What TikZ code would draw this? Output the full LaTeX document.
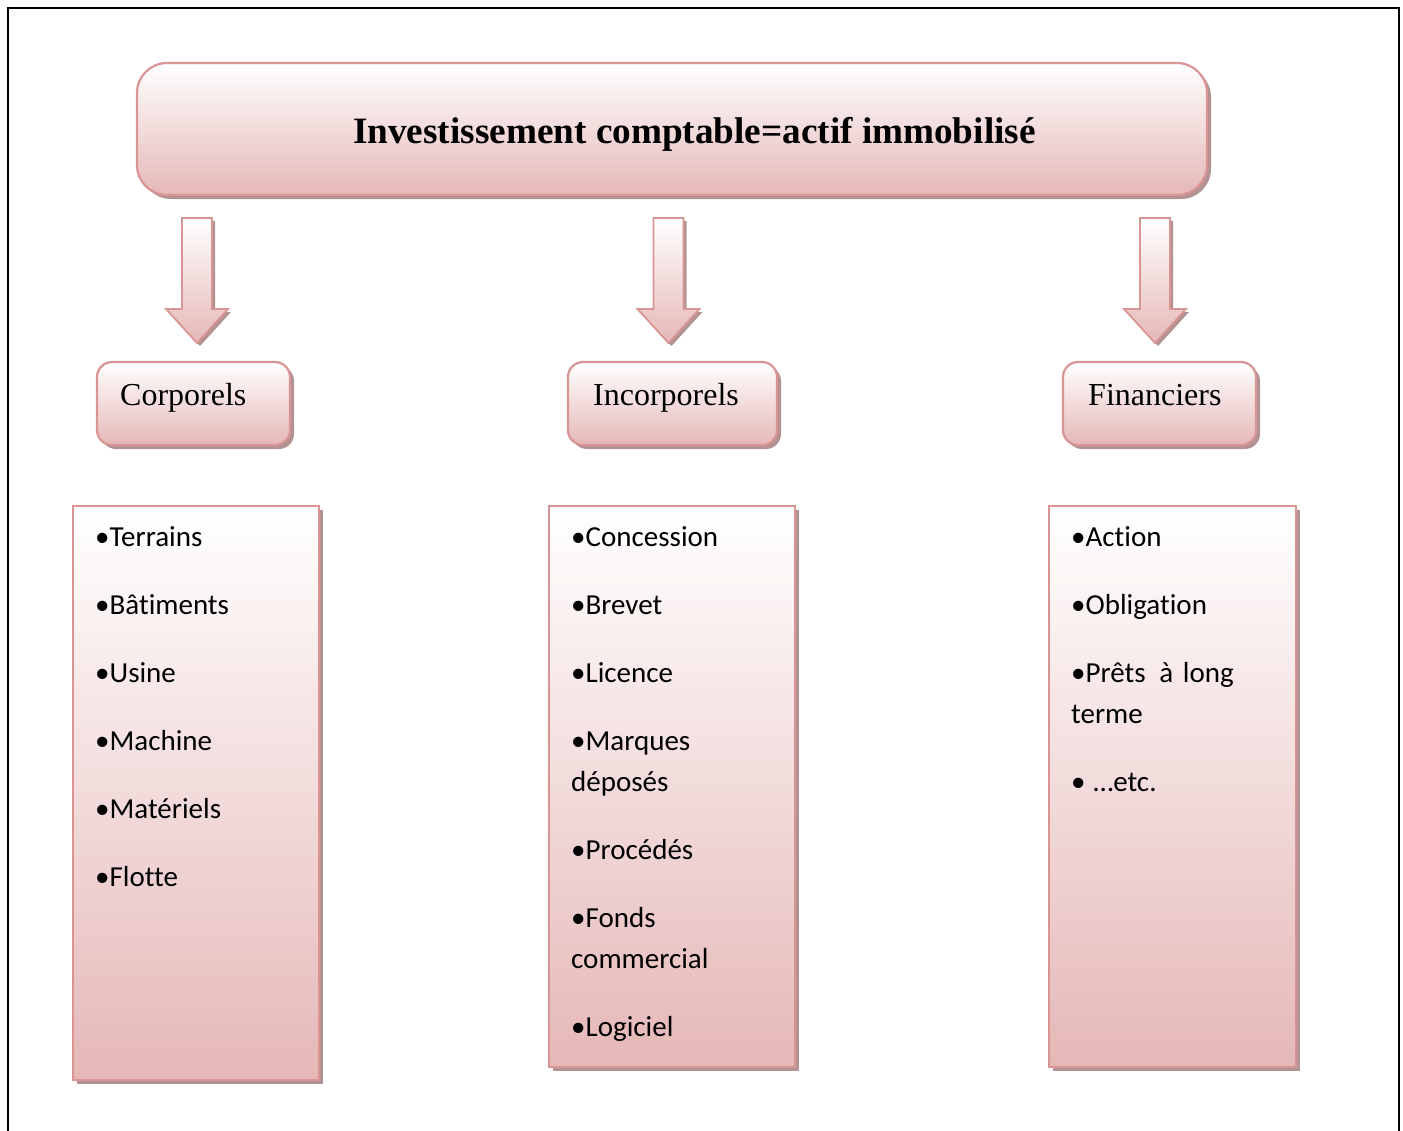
\documentclass[tikz,border=0pt]{standalone}
\usepackage{fontspec}
\setmainfont{Liberation Serif}
\newfontfamily\calibrifont[RawFeature={-liga;-clig;-dlig;-calt}]{Carlito}
\usetikzlibrary{shadows}
\definecolor{pinkbot}{HTML}{E5B8B7}
\definecolor{pinkline}{HTML}{D99594}
\definecolor{shadowcol}{HTML}{B29292}
\tikzset{
  pinkbox/.style={draw=pinkline, line width=2.2pt, top color=white, bottom color=pinkbot,
    inner sep=0pt, drop shadow={shadow xshift=4pt, shadow yshift=-4pt, fill=shadowcol, opacity=1}},
  titlebox/.style={pinkbox, rounded corners=30pt},
  catbox/.style={pinkbox, rounded corners=15pt, minimum height=83pt},
  listbox/.style={pinkbox, minimum width=246pt},
  titletext/.style={anchor=base west, inner sep=0pt, font=\fontsize{37.2}{40}\selectfont\bfseries},
  cattext/.style={anchor=base west, inner sep=0pt, font=\fontsize{32}{36}\selectfont},
  listtext/.style={anchor=base west, inner sep=0pt, align=left, text width=220pt,
    font=\calibrifont\fontsize{29}{41}\selectfont},
  blockarrow/.style={draw=pinkline, line width=1.8pt, top color=white, bottom color=pinkbot},
  frameline/.style={line width=2.5pt, black}
}
\begin{document}
\begin{tikzpicture}[x=1pt,y=-1pt]
\useasboundingbox (0,0) rectangle (1403,1130);
% frame (open at the bottom)
\coordinate (fbl) at (8,1135);
\coordinate (ftl) at (8,8);
\coordinate (ftr) at (1399,8);
\coordinate (fbr) at (1399,1135);
\draw[frameline] (fbl) -- (ftl) -- (ftr) -- (fbr);

% title
\node[titlebox, minimum width=1070pt, minimum height=132pt] (title) at (672,129) {};
\node[titletext] (titlet) at (353,143) {Investissement comptable=actif immobilisé};

% category boxes
\node[catbox, minimum width=193pt] (corp) at (193.5,403.5) {};
\node[cattext] (corpt) at (120,405) {Corporels};
\node[catbox, minimum width=209pt] (incorp) at (672.5,403.5) {};
\node[cattext] (incorpt) at (593,405) {Incorporels};
\node[catbox, minimum width=193pt] (fin) at (1159.5,403.5) {};
\node[cattext] (fint) at (1088,405) {Financiers};

% block arrows
\foreach \cx/\nm in {197/a1,668.5/a2,1155/a3}{
  \fill[shadowcol] (\cx-15+3,218+3) -- (\cx+15+3,218+3) -- (\cx+15+3,309+3) -- (\cx+31+3,309+3)
     -- (\cx+3,343+3) -- (\cx-31+3,309+3) -- (\cx-15+3,309+3) -- cycle;
  \draw[blockarrow] (\cx-15,218) -- (\cx+15,218) -- (\cx+15,309) -- (\cx+31,309)
     -- (\cx,343) -- (\cx-31,309) -- (\cx-15,309) -- cycle;
}

% list boxes
\node[listbox, minimum height=574pt] (l1) at (196,793) {};
\node[listbox, minimum height=561pt] (l2) at (672,786.5) {};
\node[listbox, minimum width=247pt, minimum height=561pt] (l3) at (1172.5,786.5) {};

\node[listtext] (l1t) at (95,546) {•Terrains\\[27pt]•Bâtiments\\[27pt]•Usine\\[27pt]•Machine\\[27pt]•Matériels\\[27pt]•Flotte};
\node[listtext] (l2t) at (571,546) {•Concession\\[27pt]•Brevet\\[27pt]•Licence\\[27pt]•Marques\\déposés\\[27pt]•Procédés\\[27pt]•Fonds\\commercial\\[27pt]•Logiciel};
\node[listtext] (l3t) at (1071,546) {•Action\\[27pt]•Obligation\\[27pt]•Prêts\hspace{4pt} à long\\terme\\[27pt]•\hspace{-2pt} …etc.};
\end{tikzpicture}
\end{document}
